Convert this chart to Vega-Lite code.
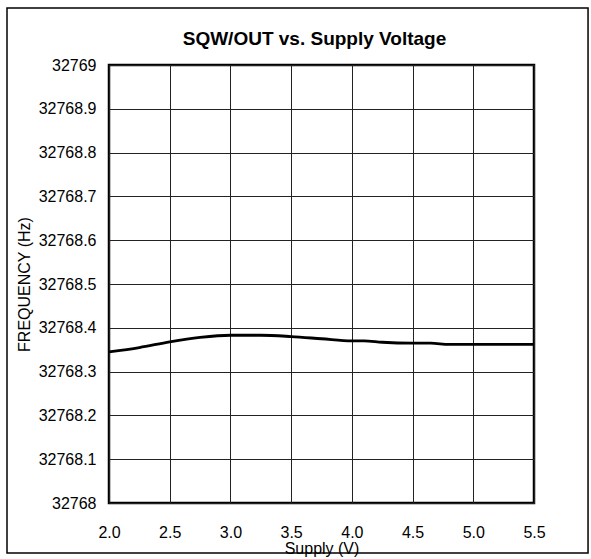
{
  "$schema": "https://vega.github.io/schema/vega-lite/v6.json",
  "width": 425,
  "height": 438,
  "autosize": {"type": "none"},
  "padding": {"left": 109, "top": 65, "right": 57, "bottom": 56},
  "background": "white",
  "title": {
    "text": "SQW/OUT vs. Supply Voltage",
    "font": "Liberation Sans Narrow, Arial Narrow, Liberation Sans",
    "fontSize": 19,
    "fontWeight": "bold",
    "color": "black",
    "anchor": "middle",
    "frame": "group",
    "baseline": "alphabetic",
    "offset": 4,
    "dx": -7,
    "dy": 61
  },
  "config": {
    "view": {"stroke": "black", "strokeWidth": 2.5},
    "font": "Liberation Sans Narrow, Arial Narrow, Liberation Sans",
    "axis": {
      "labelFont": "Liberation Sans Narrow, Arial Narrow, Liberation Sans",
      "titleFont": "Liberation Sans Narrow, Arial Narrow, Liberation Sans",
      "labelColor": "black",
      "titleColor": "black",
      "titleFontWeight": "normal",
      "labelFontSize": 16,
      "titleFontSize": 16,
      "labelFlush": false,
      "labelOverlap": false,
      "gridColor": "#222",
      "gridWidth": 1,
      "gridOpacity": 1,
      "ticks": false,
      "domain": false
    }
  },
  "layer": [
    {
      "data": {
        "values": [
          {"supply": 2.0, "freq": 32768.345},
          {"supply": 2.25, "freq": 32768.355},
          {"supply": 2.5, "freq": 32768.368},
          {"supply": 2.75, "freq": 32768.378},
          {"supply": 3.0, "freq": 32768.383},
          {"supply": 3.25, "freq": 32768.383},
          {"supply": 3.5, "freq": 32768.380},
          {"supply": 3.75, "freq": 32768.375},
          {"supply": 4.0, "freq": 32768.370},
          {"supply": 4.1, "freq": 32768.370},
          {"supply": 4.25, "freq": 32768.367},
          {"supply": 4.5, "freq": 32768.365},
          {"supply": 4.65, "freq": 32768.365},
          {"supply": 4.8, "freq": 32768.362},
          {"supply": 5.0, "freq": 32768.362},
          {"supply": 5.25, "freq": 32768.362},
          {"supply": 5.5, "freq": 32768.362}
        ]
      },
      "mark": {"type": "line", "color": "black", "strokeWidth": 2.8, "interpolate": "monotone"},
      "encoding": {
        "x": {
          "field": "supply",
          "type": "quantitative",
          "title": "Supply (V)",
          "scale": {"domain": [2, 5.5], "nice": false, "zero": false},
          "axis": {
            "values": [2, 2.5, 3, 3.5, 4, 4.5, 5, 5.5],
            "format": ".1f",
            "labelPadding": 21,
            "titleX": 212.5,
            "titleY": 45,
            "titleBaseline": "middle",
            "titleAlign": "center"
          }
        },
        "y": {
          "field": "freq",
          "type": "quantitative",
          "title": "FREQUENCY (Hz)",
          "scale": {"domain": [32768, 32769], "nice": false, "zero": false},
          "axis": {
            "values": [32768, 32768.1, 32768.2, 32768.3, 32768.4, 32768.5, 32768.6, 32768.7, 32768.8, 32768.9, 32769],
            "format": ".1~f",
            "labelPadding": 13,
            "titleX": -85,
            "titleY": 219,
            "titleAngle": -90,
            "titleAlign": "center",
            "titleBaseline": "middle"
          }
        }
      }
    },
    {
      "data": {"values": [{"x1": 1.16, "x2": 5.945, "y1": 32769.13, "y2": 32767.886}]},
      "mark": {"type": "rect", "filled": false, "stroke": "black", "strokeWidth": 1.5, "clip": false},
      "encoding": {
        "x": {"field": "x1", "type": "quantitative", "title": "Supply (V)"},
        "x2": {"field": "x2"},
        "y": {"field": "y1", "type": "quantitative", "title": "FREQUENCY (Hz)"},
        "y2": {"field": "y2"}
      }
    }
  ]
}
